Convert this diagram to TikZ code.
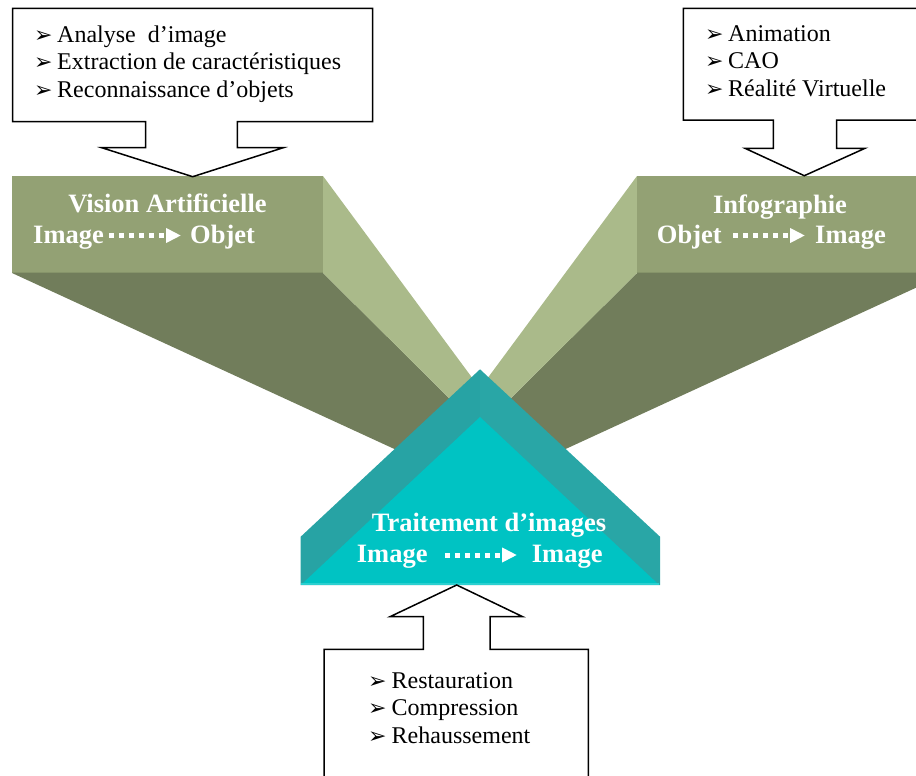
\documentclass[tikz,border=0pt]{standalone}
\usepackage{fontspec}
\setmainfont{Liberation Serif}
\newfontfamily\symfont{DejaVu Sans}
\usetikzlibrary{arrows.meta}

\definecolor{oliveFront}{HTML}{93A174}
\definecolor{oliveEdge}{HTML}{86946A}
\definecolor{oliveLight}{HTML}{AABA8A}
\definecolor{oliveDark}{HTML}{717D5B}
\definecolor{tealLeft}{HTML}{27A3A4}
\definecolor{tealRight}{HTML}{29A6A6}
\definecolor{tealInner}{HTML}{00C3C3}
\definecolor{tealRim}{HTML}{2BD0D0}

\begin{document}
\begin{tikzpicture}[x=1pt,y=-1pt,
  callout/.style={draw=black, line width=1.5pt, fill=white, line join=miter},
  item/.style={anchor=base west, inner sep=0pt, font=\fontsize{24}{27}\selectfont},
  bullet/.style={anchor=base west, inner sep=0pt, font=\symfont\fontsize{22}{22}\selectfont},
  heading/.style={anchor=base, inner sep=0pt, text=white, font=\bfseries\fontsize{26.5}{29}\selectfont},
  word/.style={anchor=base west, inner sep=0pt, text=white, font=\bfseries\fontsize{26.5}{29}\selectfont},
  flow/.style={white, line width=5pt, dash pattern=on 5pt off 5pt,
    -{Triangle[width=14pt,length=15pt]}},
]
\useasboundingbox (0,0) rectangle (916,776);
\clip (0,0) rectangle (916,776);

% ---------- left block: Vision Artificielle ----------
\fill[oliveDark]  (12,273) -- (323,273) -- (516.7,465.2) -- (429.6,465.2) -- cycle;
\fill[oliveLight] (323,176) -- (516.7,438.1) -- (516.7,465.2) -- (323,273) -- cycle;
\fill[oliveFront] (12,176) rectangle (323,273);
\draw[oliveEdge, line width=1.2pt] (12,272.5) -- (323,272.5);

% ---------- right block: Infographie ----------
\fill[oliveDark]  (948,273) -- (637,273) -- (443.3,465.2) -- (530.4,465.2) -- cycle;
\fill[oliveLight] (637,176) -- (443.3,438.1) -- (443.3,465.2) -- (637,273) -- cycle;
\fill[oliveFront] (637,176) rectangle (948,273);
\draw[oliveEdge, line width=1.2pt] (637,272.5) -- (948,272.5);

% ---------- central pyramid: Traitement d'images ----------
\fill[tealLeft]  (300.7,585) -- (300.7,536.7) -- (480,369.3) -- (480,585) -- cycle;
\fill[tealRight] (480,585) -- (480,369.3) -- (660,536.7) -- (660,585) -- cycle;
\fill[tealInner] (303,583) -- (480,417) -- (657,583) -- cycle;
\draw[tealRim, line width=2pt] (301,584) -- (659,584);

% ---------- callouts ----------
\draw[callout] (12.7,8.3) -- (372.7,8.3) -- (372.7,121.7) -- (237.3,121.7)
  -- (237.3,147.7) -- (283.3,147.7) -- (192.7,176.7) -- (101.7,147.7)
  -- (145.7,147.7) -- (145.7,121.7) -- (12.7,121.7) -- cycle;
\draw[callout] (683.3,8.3) -- (930,8.3) -- (930,120) -- (836.7,120)
  -- (836.7,148.3) -- (865,148.3) -- (804.3,175.7) -- (745,148.3)
  -- (773.3,148.3) -- (773.3,120) -- (683.3,120) -- cycle;
\draw[callout] (456.7,585) -- (522.7,616.7) -- (490,616.7) -- (490,649.3)
  -- (588.3,649.3) -- (588.3,790) -- (324,790) -- (324,649.3)
  -- (423.3,649.3) -- (423.3,616.7) -- (390,616.7) -- cycle;

% ---------- callout lists ----------
\node[bullet] (b1) at (34,42.5) {➢};
\node[item]   (t1) at (57,42.5) {Analyse~ d’image};
\node[bullet] (b2) at (34,70)   {➢};
\node[item]   (t2) at (57,70)   {Extraction de caractéristiques};
\node[bullet] (b3) at (34,97)   {➢};
\node[item]   (t3) at (57,97)   {Reconnaissance d’objets};

\node[bullet] (b4) at (705,42)  {➢};
\node[item]   (t4) at (728,42)  {Animation};
\node[bullet] (b5) at (705,69)  {➢};
\node[item]   (t5) at (728,69)  {CAO};
\node[bullet] (b6) at (705,96.5){➢};
\node[item]   (t6) at (728,96.5){Réalité Virtuelle};

\node[bullet] (b7) at (368,688) {➢};
\node[item]   (t7) at (391.5,688) {Restauration};
\node[bullet] (b8) at (368,715.5) {➢};
\node[item]   (t8) at (391.5,715.5) {Compression};
\node[bullet] (b9) at (368,743) {➢};
\node[item]   (t9) at (391.5,743) {Rehaussement};

% ---------- block titles ----------
\node[heading] (va) at (167.5,212.7) {Vision Artificielle};
\node[word] (vaIn)  at (33,243.3)  {Image};
\node[word] (vaOut) at (190,243.3) {Objet};
\coordinate (vaS) at (109,235.5);
\coordinate (vaE) at (181,235.5);
\draw[flow] (vaS) -- (vaE);

\node[heading] (ig) at (780,213.3) {Infographie};
\node[word] (igIn)  at (656.7,243.3) {Objet};
\node[word] (igOut) at (815,243.3)   {Image};
\coordinate (igS) at (733,235.5);
\coordinate (igE) at (805,235.5);
\draw[flow] (igS) -- (igE);

\node[heading] (ti) at (489,531.7) {Traitement d’images};
\node[word] (tiIn)  at (356.7,562.7) {Image};
\node[word] (tiOut) at (531.7,562.7) {Image};
\coordinate (tiS) at (445,555);
\coordinate (tiE) at (517,555);
\draw[flow] (tiS) -- (tiE);
\end{tikzpicture}
\end{document}
